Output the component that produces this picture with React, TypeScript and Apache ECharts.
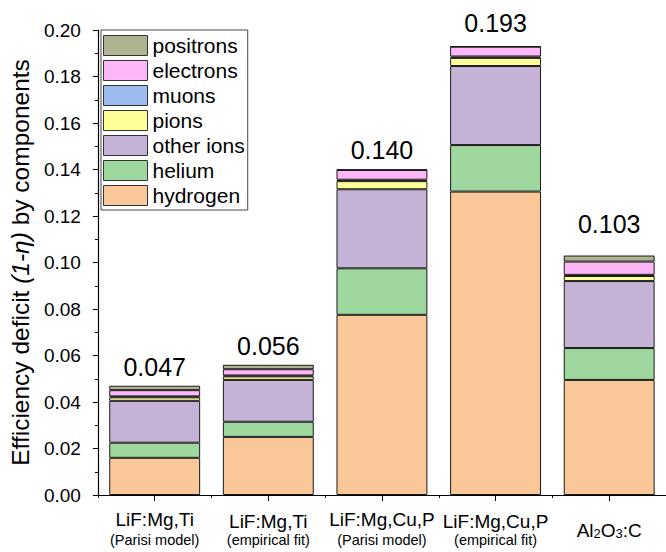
import React, { useEffect, useRef } from "react";
import * as echarts from "echarts";

// Materials (first line) and the model used for each (second line)
const materials = ["LiF:Mg,Ti", "LiF:Mg,Ti", "LiF:Mg,Cu,P", "LiF:Mg,Cu,P", "Al2O3:C"];
const models = ["(Parisi model)", "(empirical fit)", "(Parisi model)", "(empirical fit)", ""];

// Contribution of each particle type to the efficiency deficit (1-η)
const hydrogen = [0.016, 0.025, 0.0775, 0.1305, 0.0495];
const helium = [0.0065, 0.0065, 0.02, 0.02, 0.0137];
const otherIons = [0.018, 0.018, 0.034, 0.034, 0.0288];
const pions = [0.0015, 0.0015, 0.0035, 0.0035, 0.0022];
const muons = [0.0004, 0.0004, 0.0006, 0.0006, 0.0005];
const electrons = [0.0027, 0.0027, 0.0042, 0.0042, 0.0057];
const positrons = [0.0019, 0.0019, 0.0002, 0.0002, 0.0026];

const yTicks = [0, 0.02, 0.04, 0.06, 0.08, 0.1, 0.12, 0.14, 0.16, 0.18, 0.2];

const FONT = "'Liberation Sans', Arial, sans-serif";
// gap between the top of each stack and its total
const TOTAL_GAP = [6, 6, 7, 11, 19];

const stacks = [
  { name: "hydrogen", data: hydrogen, color: "#FAC898" },
  { name: "helium", data: helium, color: "#9FD89F" },
  { name: "other ions", data: otherIons, color: "#C4B3D6" },
  { name: "pions", data: pions, color: "#FFFF99" },
  { name: "muons", data: muons, color: "#9BBBEE" },
  { name: "electrons", data: electrons, color: "#FDB6F7" },
  { name: "positrons", data: positrons, color: "#AEB491" },
];

const totals = materials.map((_, i) => stacks.reduce((s, st) => s + st.data[i], 0));

function categoryLabel(index: number): string {
  const mat = materials[index];
  if (mat === "Al2O3:C") {
    return "{c|Al}{s|2}{c|O}{s|3}{c|:C}";
  }
  const empirical = models[index].indexOf("empirical") >= 0;
  return empirical
    ? `{m2|${mat}}\n{p2|${models[index]}}`
    : `{m|${mat}}\n{p|${models[index]}}`;
}

export default function App() {
  const ref = useRef<HTMLDivElement>(null);

  useEffect(() => {
    if (!ref.current) return;
    const chart = echarts.init(ref.current, null, { renderer: "svg" });

    const series: any[] = stacks.map((st) => ({
      name: st.name,
      type: "bar",
      stack: "deficit",
      barWidth: "80%",
      xAxisIndex: 0,
      itemStyle: { color: st.color, borderColor: "#1a1a1a", borderWidth: 1 },
      emphasis: { disabled: true },
      data:
        st.name === "positrons"
          ? st.data.map((v, i) => ({ value: v, label: { distance: TOTAL_GAP[i] } }))
          : st.data,
      label:
        st.name === "positrons"
          ? {
              show: true,
              position: "top",
              fontFamily: FONT,
              fontSize: 25,
              color: "#000",
              formatter: (p: any) => totals[p.dataIndex].toFixed(3),
            }
          : { show: false },
    }));

    chart.setOption({
      animation: false,
      backgroundColor: "#fff",
      grid: { left: 95, top: 30, bottom: 57, width: 575 },
      legend: {
        orient: "vertical",
        left: 101,
        top: 30,
        data: ["positrons", "electrons", "muons", "pions", "other ions", "helium", "hydrogen"],
        icon: "rect",
        itemWidth: 44,
        itemHeight: 20,
        itemGap: 4,
        padding: [5, 3, 4, 2],
        borderColor: "#444",
        borderWidth: 1,
        backgroundColor: "#fff",
        itemStyle: { borderColor: "#333", borderWidth: 1 },
        textStyle: { fontFamily: FONT, fontSize: 21, color: "#000", lineHeight: 20 },
        selectedMode: false,
      },
      xAxis: [
        {
          type: "category",
          data: materials,
          position: "bottom",
          axisLine: { show: true, lineStyle: { color: "#000", width: 1.2 } },
          axisTick: { show: true, alignWithLabel: true, length: 6, lineStyle: { color: "#000" } },
          axisLabel: {
            interval: 0,
            margin: 13,
            color: "#000",
            fontFamily: FONT,
            formatter: (_: string, index: number) => categoryLabel(index),
            rich: {
              m: { fontFamily: FONT, fontSize: 19, lineHeight: 22, color: "#000", align: "center" },
              p: { fontFamily: FONT, fontSize: 14.5, lineHeight: 20, color: "#000", align: "center" },
              m2: { fontFamily: FONT, fontSize: 19, lineHeight: 22, padding: [4, 0, 0, 0], color: "#000", align: "center" },
              p2: { fontFamily: FONT, fontSize: 14.5, lineHeight: 20, color: "#000", align: "center" },
              c: { fontFamily: FONT, fontSize: 19, lineHeight: 44, color: "#000" },
              s: { fontFamily: FONT, fontSize: 13, lineHeight: 13, padding: [7, 0, 0, 0], color: "#000" },
            },
          },
          splitLine: { show: false },
        },
        {
          // short ticks at the category boundaries
          type: "category",
          data: materials,
          position: "bottom",
          axisLine: { show: false },
          axisTick: { show: true, alignWithLabel: false, length: 3, lineStyle: { color: "#000" } },
          axisLabel: { show: false },
          splitLine: { show: false },
        },
      ],
      yAxis: {
        type: "value",
        min: yTicks[0],
        max: yTicks[yTicks.length - 1],
        interval: 0.02,
        name: "Efficiency deficit {i|(1-η)} by components",
        nameLocation: "middle",
        nameGap: 60,
        nameTextStyle: {
          fontFamily: FONT,
          fontSize: 24.5,
          color: "#000",
          rich: { i: { fontFamily: FONT, fontSize: 24.5, fontStyle: "italic", color: "#000" } },
        },
        axisLine: { show: true, lineStyle: { color: "#000", width: 1.2 } },
        axisTick: { show: true, length: 5, lineStyle: { color: "#000" } },
        minorTick: { show: true, splitNumber: 2, length: 3, lineStyle: { color: "#000" } },
        axisLabel: {
          margin: 17,
          color: "#000",
          fontFamily: FONT,
          fontSize: 19,
          formatter: (v: number) => v.toFixed(2),
        },
        splitLine: { show: false },
      },
      series,
    });

    return () => chart.dispose();
  }, []);

  return (
    <div
      ref={ref}
      style={{ position: "fixed", left: 0, top: 0, width: 666, height: 552, overflow: "hidden" }}
    />
  );
}
